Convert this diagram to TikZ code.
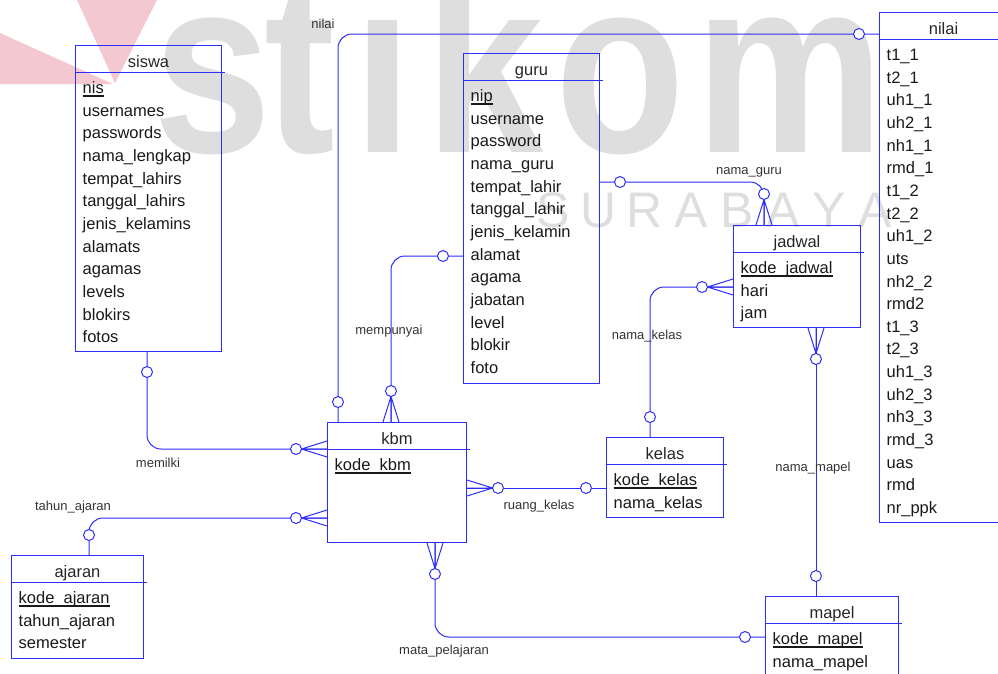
\documentclass[tikz,border=0pt]{standalone}
\usepackage{fontspec}
\setmainfont{Liberation Sans}
\usetikzlibrary{calc}

\definecolor{erblue}{RGB}{45,45,250}
\definecolor{wmgray}{RGB}{222,222,222}
\definecolor{wmpink}{RGB}{244,200,208}

\tikzset{
	entbox/.style={draw=erblue, line width=1pt, anchor=north west, inner sep=0pt},
	entline/.style={erblue, line width=1pt},
	enttitle/.style={font=\fontsize{16.5}{20}\selectfont, text=black!85, inner sep=0pt, anchor=base},
	attr/.style={font=\fontsize{16.5}{20}\selectfont, text=black!90, inner sep=0pt, anchor=base west},
	keyline/.style={black!90, line width=1.6pt},
	rel/.style={erblue, line width=1pt, rounded corners=14pt},
	rellabel/.style={font=\fontsize{13}{15}\selectfont, text=black!80, inner sep=0pt},
	wmbig/.style={font=\fontsize{250}{250}\selectfont\bfseries, text=wmgray, inner sep=0pt, anchor=base, xscale=0.85, transform shape},
	wmsmall/.style={font=\fontsize{50}{50}\selectfont, text=wmgray, inner sep=0pt, anchor=base},
	crow/.pic={
		\draw[erblue, line width=1pt] (0,-8) -- (25.5,0) -- (0,8) (0,0) -- (25.5,0);
		\draw[erblue, line width=1pt, fill=white] (31,0) circle (5.5);
	},
	opt/.pic={\draw[erblue, line width=1pt, fill=white] (20,0) circle (5.5);}
}

% entity box: name, top left corner, size, title, attributes (first one is the key)
\def\entity(#1)(#2,#3)(#4,#5)#6#7{%
	\node[entbox, minimum width=#4pt, minimum height=#5pt] (#1) at (#2,#3) {};
	\draw[entline] ([yshift=-27.5pt]#1.north west) -- ([yshift=-27.5pt, xshift=3pt]#1.north east);
	\node[enttitle] (#1-title) at ([yshift=-22.5pt]#1.north) {#6};
	\foreach \a [count=\i from 0] in {#7} {
		\node[attr] (#1-\i) at ([xshift=7.5pt, yshift=-48.5pt-22.65pt*\i]#1.north west) {\a};
	}
}

\begin{document}
\begin{tikzpicture}[x=1pt, y=-1pt]
		\useasboundingbox (0,0) rectangle (998,673);
		\clip (0,0) rectangle (998,673);
		
		%%%%% watermark %%%%%
		\fill[wmpink] (0,33) -- (113,84) -- (0,84) -- cycle;
		\fill[wmpink] (77,0) -- (157,0) -- (115,83) -- cycle;
		\foreach \c/\x in {s/213,t/300,i/383,k/485,o/620,m/790}
			\node[wmbig] (wm-\c) at (\x,152) {\c};
		\foreach \c [count=\i from 0] in {S,U,R,A,B,A,Y,A}
			\node[wmsmall] (wm-sby-\i) at (553+46*\i,227) {\c};
		
		%%%%% entities %%%%%
		\entity(siswa)(75,45)(146,306){siswa}{nis,usernames,passwords,nama\_lengkap,tempat\_lahirs,tanggal\_lahirs,jenis\_kelamins,alamats,agamas,levels,blokirs,fotos}
		\entity(guru)(463,53)(136,330){guru}{nip,username,password,nama\_guru,tempat\_lahir,tanggal\_lahir,jenis\_kelamin,alamat,agama,jabatan,level,blokir,foto}
		\entity(nilai)(879,12)(128,510){nilai}{t1\_1,t2\_1,uh1\_1,uh2\_1,nh1\_1,rmd\_1,t1\_2,t2\_2,uh1\_2,uts,nh2\_2,rmd2,t1\_3,t2\_3,uh1\_3,uh2\_3,nh3\_3,rmd\_3,uas,rmd,nr\_ppk}
		\entity(jadwal)(733,225)(127,102){jadwal}{kode\_jadwal\ ,hari,jam}
		\entity(kbm)(327,422)(139,120){kbm}{kode\_kbm\ }
		\entity(kelas)(606,437)(117,80){kelas}{kode\_kelas\ ,nama\_kelas}
		\entity(ajaran)(11,555)(132,103){ajaran}{kode\_ajaran\ ,tahun\_ajaran,semester}
		\entity(mapel)(765,596)(133,100){mapel}{kode\_mapel\ ,nama\_mapel}
		
		% keys
		\foreach \e in {siswa,guru,jadwal,kbm,kelas,ajaran,mapel}
			\draw[keyline] ([yshift=-2.5pt]\e-0.base west) -- ([yshift=-2.5pt]\e-0.base east);
		
		%%%%% relations %%%%%
		\coordinate (nilai-w) at ([yshift=-22pt]nilai.north west);
		\coordinate (kbm-n1) at ([xshift=11pt]kbm.north west);
		\coordinate (guru-w) at ([yshift=-203pt]guru.north west);
		\coordinate (kbm-n2) at ([xshift=64pt]kbm.north west);
		\coordinate (siswa-s) at ([xshift=72pt]siswa.south west);
		\coordinate (kbm-w1) at ([yshift=-27pt]kbm.north west);
		\coordinate (ajaran-n) at ([xshift=78pt]ajaran.north west);
		\coordinate (kbm-w2) at ([yshift=-96pt]kbm.north west);
		\coordinate (kbm-e) at ([yshift=-66pt]kbm.north east);
		\coordinate (kelas-w) at ([yshift=-51pt]kelas.north west);
		\coordinate (kbm-s) at ([xshift=108pt]kbm.south west);
		\coordinate (mapel-w) at ([yshift=-41pt]mapel.north west);
		\coordinate (guru-e) at ([yshift=-129pt]guru.north east);
		\coordinate (jadwal-n) at ([xshift=31pt]jadwal.north west);
		\coordinate (jadwal-w) at ([yshift=-62pt]jadwal.north west);
		\coordinate (kelas-n) at ([xshift=44pt]kelas.north west);
		\coordinate (jadwal-s) at ([xshift=83pt]jadwal.south west);
		\coordinate (mapel-n) at ([xshift=51pt]mapel.north west);
		
		\draw[rel] (nilai-w) -| (kbm-n1);
		\draw[rel] (guru-w) -| (kbm-n2);
		\draw[rel] (siswa-s) |- (kbm-w1);
		\draw[rel] (ajaran-n) |- (kbm-w2);
		\draw[rel] (kbm-e) -- (kelas-w);
		\draw[rel] (kbm-s) |- (mapel-w);
		\draw[rel] (guru-e) -| (jadwal-n);
		\draw[rel] (jadwal-w) -| (kelas-n);
		\draw[rel] (jadwal-s) -- (mapel-n);
		
		\pic[rotate=180] at (nilai-w) {opt};
		\pic[rotate=90] at (kbm-n1) {opt};
		\pic[rotate=180] at (guru-w) {opt};
		\pic[rotate=90] at (kbm-n2) {crow};
		\pic[rotate=-90] at (siswa-s) {opt};
		\pic[rotate=180] at (kbm-w1) {crow};
		\pic[rotate=90] at (ajaran-n) {opt};
		\pic[rotate=180] at (kbm-w2) {crow};
		\pic at (kbm-e) {crow};
		\pic[rotate=180] at (kelas-w) {opt};
		\pic[rotate=-90] at (kbm-s) {crow};
		\pic[rotate=180] at (mapel-w) {opt};
		\pic at (guru-e) {opt};
		\pic[rotate=90] at (jadwal-n) {crow};
		\pic[rotate=180] at (jadwal-w) {crow};
		\pic[rotate=90] at (kelas-n) {opt};
		\pic[rotate=-90] at (jadwal-s) {crow};
		\pic[rotate=90] at (mapel-n) {opt};
		
		\node[rellabel] (lbl-nilai) at (323,24) {nilai};
		\node[rellabel] (lbl-mempunyai) at (389,331) {mempunyai};
		\node[rellabel] (lbl-memilki) at (158,463) {memilki};
		\node[rellabel] (lbl-tahun) at (73,507) {tahun\_ajaran};
		\node[rellabel] (lbl-ruang) at (539,506) {ruang\_kelas};
		\node[rellabel] (lbl-pelajaran) at (444,651) {mata\_pelajaran};
		\node[rellabel] (lbl-guru) at (749,172) {nama\_guru};
		\node[rellabel] (lbl-kelas) at (647,336) {nama\_kelas};
		\node[rellabel] (lbl-mapel) at (813,468) {nama\_mapel};
		
\end{tikzpicture}
\end{document}
